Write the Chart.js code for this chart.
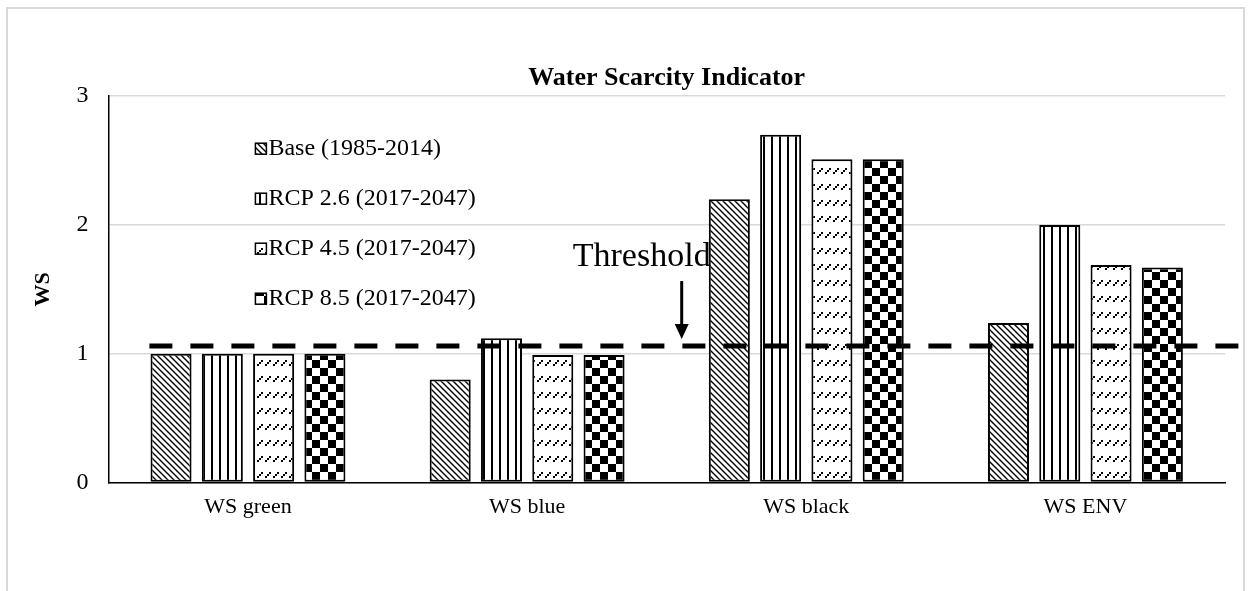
<!DOCTYPE html>
<html>
<head>
<meta charset="utf-8">
<script src="https://cdn.jsdelivr.net/npm/chart.js@4.4.1/dist/chart.umd.min.js"></script>
<style>
  html, body { margin: 0; padding: 0; background: #fff; }
  #wrap { width: 1250px; height: 591px; }
</style>
</head>
<body>
<div id="wrap"><canvas id="chart-ws" width="1250" height="591"></canvas></div>
<script>
const categories = ['WS green', 'WS blue', 'WS black', 'WS ENV'];
const seriesNames = ['Base (1985-2014)', 'RCP 2.6 (2017-2047)', 'RCP 4.5 (2017-2047)', 'RCP 8.5 (2017-2047)'];
const baseValues = [1.00, 0.80, 2.20, 1.24];
const rcp26Values = [1.00, 1.12, 2.70, 2.00];
const rcp45Values = [1.00, 0.99, 2.51, 1.69];
const rcp85Values = [1.00, 0.99, 2.51, 1.67];
const yTicks = [0, 1, 2, 3];
const threshold = 1.06;
const thresholdLabel = 'Threshold';

const SERIF = '"Liberation Serif", "Times New Roman", serif';

// hatch patterns, tiled from canvas origin
function makePattern(w, h, draw) {
  const c = document.createElement('canvas');
  c.width = w; c.height = h;
  const g = c.getContext('2d');
  g.fillStyle = '#fff';
  g.fillRect(0, 0, w, h);
  draw(g);
  return document.getElementById('chart-ws').getContext('2d').createPattern(c, 'repeat');
}

const patDiag = makePattern(6, 6, g => {
  g.strokeStyle = '#000'; g.lineWidth = 1.4;
  g.beginPath();
  g.moveTo(-1, -1); g.lineTo(7, 7);
  g.moveTo(-7, -1); g.lineTo(1, 7);
  g.moveTo(5, -1); g.lineTo(13, 7);
  g.stroke();
});
const patVert = makePattern(8, 8, g => {
  g.fillStyle = '#000';
  g.fillRect(3, 0, 2, 8);
});
const patDash = makePattern(8, 16, g => {
  g.fillStyle = '#000';
  g.fillRect(1, 12, 2, 2);
  g.fillRect(3, 10, 2, 2);
  g.fillRect(5, 8, 2, 2);
});
const patCheck = makePattern(16, 16, g => {
  g.fillStyle = '#000';
  g.fillRect(0, 0, 8, 8);
  g.fillRect(8, 8, 8, 8);
});
const patterns = [patDiag, patVert, patDash, patCheck];
const seriesValues = [baseValues, rcp26Values, rcp45Values, rcp85Values];

const extras = {
  id: 'extras',
  afterDatasetsDraw(chart) {
    const { ctx, chartArea, scales } = chart;
    const y = scales.y.getPixelForValue(threshold);
    const xMid = scales.x.getPixelForValue(1.5);
    ctx.save();
    // threshold dashed line
    ctx.strokeStyle = '#000';
    ctx.lineWidth = 5;
    ctx.setLineDash([23, 18]);
    ctx.beginPath();
    ctx.moveTo(chartArea.left + 41, y);
    ctx.lineTo(chartArea.right + 20, y);
    ctx.stroke();
    ctx.setLineDash([]);
    // label + arrow
    ctx.fillStyle = '#000';
    ctx.font = '34px ' + SERIF;
    ctx.textAlign = 'center';
    ctx.textBaseline = 'alphabetic';
    ctx.fillText(thresholdLabel, xMid - 25, y - 80);
    const ax = xMid + 15;
    ctx.lineWidth = 3;
    ctx.beginPath();
    ctx.moveTo(ax, y - 65);
    ctx.lineTo(ax, y - 18);
    ctx.stroke();
    ctx.beginPath();
    ctx.moveTo(ax - 7, y - 22);
    ctx.lineTo(ax + 7, y - 22);
    ctx.lineTo(ax, y - 7);
    ctx.closePath();
    ctx.fill();
    // legend inside plot
    ctx.font = '24px ' + SERIF;
    ctx.textAlign = 'left';
    ctx.textBaseline = 'middle';
    seriesNames.forEach((name, i) => {
      const ly = chartArea.top + 52 + i * 50;
      const lx = chartArea.left + 147;
      ctx.fillStyle = patterns[i];
      ctx.fillRect(lx, ly - 5, 11, 11);
      ctx.strokeStyle = '#000';
      ctx.lineWidth = 1.5;
      ctx.strokeRect(lx, ly - 5, 11, 11);
      ctx.fillStyle = '#000';
      ctx.fillText(name, lx + 13, ly + 1);
    });
    ctx.restore();
  },
  afterDraw(chart) {
    const { ctx } = chart;
    ctx.save();
    ctx.strokeStyle = '#d9d9d9';
    ctx.lineWidth = 2;
    ctx.strokeRect(7, 8, 1237, 620);
    ctx.restore();
  }
};

new Chart(document.getElementById('chart-ws'), {
  type: 'bar',
  data: {
    labels: categories,
    datasets: seriesNames.map((name, i) => ({
      label: name,
      data: seriesValues[i],
      backgroundColor: patterns[i],
      borderColor: '#000',
      borderWidth: 2,
      borderSkipped: false,
      barPercentage: 0.8,
      categoryPercentage: 0.735
    }))
  },
  options: {
    responsive: false,
    animation: false,
    layout: { padding: { left: 30, right: 25, top: 0, bottom: 60 } },
    plugins: {
      legend: { display: false },
      tooltip: { enabled: false },
      title: {
        display: true,
        fullSize: false,
        text: 'Water Scarcity Indicator',
        color: '#000',
        font: { family: SERIF, size: 26, weight: 'bold' },
        padding: { top: 63, bottom: 2 }
      }
    },
    scales: {
      x: {
        grid: { display: false, drawTicks: false },
        border: { color: '#000', width: 1.5 },
        ticks: { color: '#000', font: { family: SERIF, size: 22 }, padding: 11 }
      },
      y: {
        min: 0,
        max: 3,
        afterBuildTicks(scale) { scale.ticks = yTicks.map(v => ({ value: v })); },
        grid: { color: '#d9d9d9', lineWidth: 1.5, drawTicks: false },
        border: { color: '#000', width: 1.5 },
        ticks: { color: '#000', font: { family: SERIF, size: 24 }, padding: 20 },
        title: {
          display: true,
          text: 'WS',
          color: '#000',
          font: { family: SERIF, size: 22, weight: 'bold' },
          padding: { top: 0, bottom: 0 }
        }
      }
    }
  },
  plugins: [extras]
});
</script>
</body>
</html>
